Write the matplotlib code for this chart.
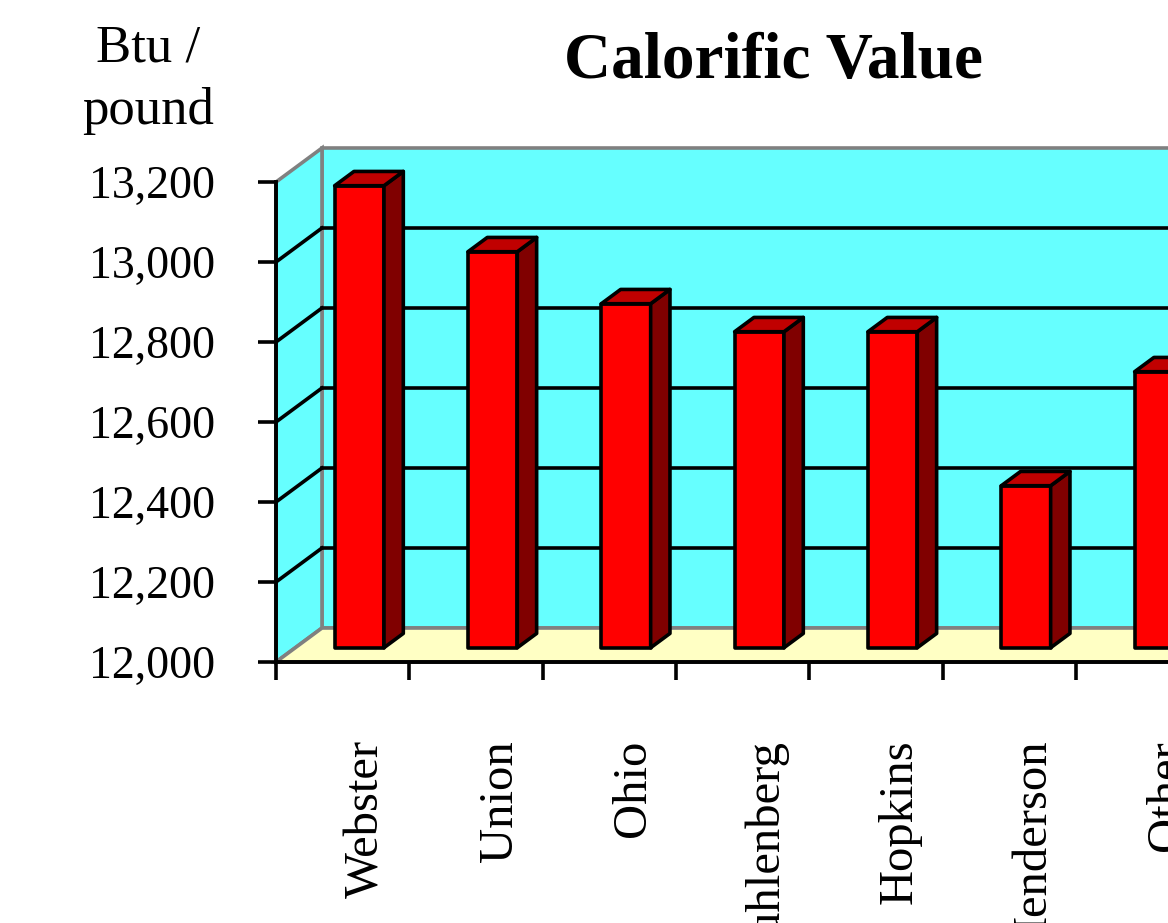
import matplotlib.pyplot as plt
from matplotlib.patches import Polygon
from matplotlib.ticker import FuncFormatter

# data (Btu / pound)
counties = ['Webster', 'Union', 'Ohio', 'Muhlenberg', 'Hopkins', 'Henderson', 'Other']
btu = [13155, 12990, 12860, 12790, 12790, 12405, 12690]
y_ticks = [12000, 12200, 12400, 12600, 12800, 13000, 13200]

WALL = '#66ffff'
FLOOR = '#ffffc4'
FRONT = '#ff0000'
TOP = '#c00000'
SIDE = '#800000'
EDGE_GRAY = '#808080'

plt.rcParams['font.family'] = ['Liberation Serif', 'DejaVu Serif']

fig = plt.figure(figsize=(11.68, 9.23), dpi=100)
W, H = 1168, 923
n = len(counties)
cat_px = 133.33
px_per_btu = 0.4
ymin, ymax = 12000, 13300
ax = fig.add_axes([276 / W, (H - 662) / H, n * cat_px / W, (ymax - ymin) * px_per_btu / H])
ax.set_xlim(0, n)
ax.set_ylim(ymin, ymax)
ax.patch.set_visible(False)

# depth of the 3d box, in data units
dx = 46 / cat_px
dy = 34 / px_per_btu
top = y_ticks[-1]
lw = 2.6

# walls and floor
ax.add_patch(Polygon([(dx, ymin + dy), (n + dx, ymin + dy), (n + dx, top + dy), (dx, top + dy)],
                     closed=True, fc=WALL, ec=EDGE_GRAY, lw=lw, clip_on=False, zorder=1))
ax.add_patch(Polygon([(0, ymin), (dx, ymin + dy), (dx, top + dy), (0, top)],
                     closed=True, fc=WALL, ec=EDGE_GRAY, lw=lw, clip_on=False, zorder=1))
ax.add_patch(Polygon([(0, ymin), (n + 1, ymin), (n + 1 + dx, ymin + dy), (dx, ymin + dy)],
                     closed=True, fc=FLOOR, ec=EDGE_GRAY, lw=lw, clip_on=False, zorder=1.5))

# gridlines on back and side walls
for v in y_ticks[1:-1]:
    ax.plot([dx, n + 1], [v + dy, v + dy], color='black', lw=lw, zorder=2, clip_on=False)
    ax.plot([0, dx], [v, v + dy], color='black', lw=lw, zorder=2, clip_on=False)

# 3d bars
bar_w = 0.37
f_front, f_back = 0.42, 0.84
for i, v in enumerate(btu):
    x0 = i + 0.5 - bar_w / 2 + f_front * dx - 0.02
    x1 = x0 + bar_w
    y0 = ymin + f_front * dy
    y1 = v + f_front * dy
    ddx = (f_back - f_front) * dx
    ddy = (f_back - f_front) * dy
    kw = dict(closed=True, ec='black', lw=lw, clip_on=False, joinstyle='round')
    ax.add_patch(Polygon([(x0, y0), (x1, y0), (x1, y1), (x0, y1)], fc=FRONT, zorder=3, **kw))
    ax.add_patch(Polygon([(x1, y0), (x1 + ddx, y0 + ddy), (x1 + ddx, y1 + ddy), (x1, y1)],
                         fc=SIDE, zorder=3, **kw))
    ax.add_patch(Polygon([(x0, y1), (x1, y1), (x1 + ddx, y1 + ddy), (x0 + ddx, y1 + ddy)],
                         fc=TOP, zorder=3, **kw))

# axes
for s in ['top', 'right']:
    ax.spines[s].set_visible(False)
ax.spines['left'].set_bounds(ymin, top)
ax.spines['left'].set_linewidth(2.8)
ax.spines['bottom'].set_linewidth(2.8)
ax.spines['left'].set_zorder(4)
ax.spines['bottom'].set_zorder(4)

ax.set_yticks(y_ticks)
ax.yaxis.set_major_formatter(FuncFormatter(lambda v, p: f'{int(v):,}'))
ax.tick_params(axis='y', direction='out', length=13, width=2.6, pad=31, labelsize=33)

ax.set_xticks(range(n + 1))
ax.set_xticklabels([])
ax.set_xticks([i + 0.5 + 0.18 for i in range(n)], minor=True)
ax.set_xticklabels(counties, minor=True, rotation=90, fontsize=35, va='top', ha='center')
ax.tick_params(axis='x', which='major', direction='out', length=13, width=2.6)
ax.tick_params(axis='x', which='minor', length=0, pad=56)

fig.text(773 / W, 1 - 62 / H, 'Calorific Value', ha='center', va='center',
         fontsize=47, fontweight='bold')
fig.text(148 / W, 1 - 80 / H, 'Btu /\npound', ha='center', va='center',
         fontsize=38, linespacing=1.4)

fig.savefig('out.png', dpi=100)
